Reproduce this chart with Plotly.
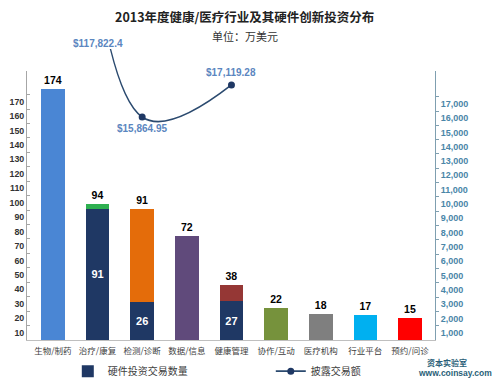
import plotly.graph_objects as go

categories = ["生物/制药", "治疗/康复", "检测/诊断", "数据/信息", "健康管理",
              "协作/互动", "医疗机构", "行业平台", "预约/问诊"]
totals = [174, 94, 91, 72, 38, 22, 18, 17, 15]
hardware = [None, 91, 26, None, 27, None, None, None, None]
bar_colors = ["#4a86d4", "#2eb050", "#e46c0a", "#604a7b", "#953735",
              "#76923c", "#7f7f7f", "#00b0f0", "#ff0000"]

line_cats = ["治疗/康复", "检测/诊断", "健康管理"]
line_vals = [117822.4, 15864.95, 17119.28]
line_labels = ["$117,822.4", "$15,864.95", "$17,119.28"]

left_ticks = [10, 20, 30, 40, 50, 60, 70, 80, 90, 100, 110, 120, 130, 140, 150, 160, 170]
right_ticks = [1000, 2000, 3000, 4000, 5000, 6000, 7000, 8000, 9000, 10000,
               11000, 12000, 13000, 14000, 15000, 16000, 17000]

rest = [t - (h or 0) for t, h in zip(totals, hardware)]

NAVY = "#1f3864"
FONT = "Arial, 'Liberation Sans', 'Noto Sans CJK SC', sans-serif"
CJK = "'Noto Sans CJK SC', 'Microsoft YaHei', sans-serif"

fig = go.Figure()

fig.add_trace(go.Bar(
    x=categories, y=hardware, name="硬件投资交易数量",
    marker=dict(color=NAVY, line=dict(width=0)),
    text=[("" if h is None else str(h)) for h in hardware],
    textposition="inside", insidetextanchor="middle",
    textfont=dict(color="white", size=11, family=FONT, weight="bold"),
    width=0.53, xaxis="x", yaxis="y", showlegend=True,
))
fig.add_trace(go.Bar(
    x=categories, y=rest, name="其他",
    marker=dict(color=bar_colors, line=dict(width=0)),
    text=[str(t) for t in totals], textposition="outside",
    textfont=dict(color="black", size=10.5, family=FONT, weight="bold"),
    constraintext="none", cliponaxis=False,
    width=0.53, xaxis="x", yaxis="y", showlegend=False,
))

fig.add_trace(go.Scatter(
    x=line_cats, y=line_vals, name="披露交易额",
    mode="lines+markers",
    line=dict(color="#2b4a6f", width=1.6, shape="spline", smoothing=1),
    marker=dict(color="#1f3864", size=7),
    xaxis="x2", yaxis="y3", showlegend=True,
))

fig.add_trace(go.Bar(x=[None], y=[None], yaxis="y2", xaxis="x", showlegend=False))

xrange = [-0.58, 8.56]
fig.update_layout(
    template="none",
    width=500, height=385,
    margin=dict(l=19, r=73, t=41, b=53, autoexpand=False),
    paper_bgcolor="white", plot_bgcolor="rgba(0,0,0,0)",
    barmode="stack", bargap=0.47,
    font=dict(family=FONT),
    xaxis=dict(domain=[0, 1], range=xrange, type="category", automargin=False,
               categoryorder="array", categoryarray=categories,
               showline=True, linecolor="#bfbfbf", linewidth=1,
               ticks="", ticklabelstandoff=3,
               tickfont=dict(size=8.5, color="#404040", family=CJK),
               showgrid=False, zeroline=False, anchor="y"),
    yaxis=dict(domain=[0, 0.9244], range=[0, 186.4], anchor="x", automargin=False,
               tickvals=left_ticks, ticks="inside", ticklen=3, tickcolor="#a6a6a6",
               ticklabelshift=7,
               tickfont=dict(size=8.8, color="#333333", family=FONT, weight="bold"),
               showline=True, linecolor="#a6a6a6", linewidth=1,
               showgrid=False, zeroline=False),
    yaxis2=dict(overlaying="y", side="right", anchor="x", range=[0, 18798],
                automargin=False,
                tickvals=right_ticks, tickformat=",", ticks="outside", ticklen=3,
                tickcolor="#7f9fb0", ticklabelshift=7,
                tickfont=dict(size=9, color="#4a86a8", family=FONT, weight="bold"),
                showline=True, linecolor="#7f9fb0", linewidth=1,
                showgrid=False, zeroline=False),
    xaxis2=dict(domain=[0, 1], range=xrange, type="category", automargin=False,
                categoryorder="array", categoryarray=categories,
                anchor="y3", visible=False),
    yaxis3=dict(domain=[0, 1], range=[7123, 18530], anchor="x2", visible=False,
                automargin=False),
    legend=dict(orientation="h", x=0.10, y=-0.107, xanchor="left", yanchor="middle",
                traceorder="normal",
                font=dict(size=10, color="#404040", family=CJK),
                entrywidth=158, bgcolor="rgba(0,0,0,0)"),
)

def ann(text, x, y, xref="paper", yref="paper", size=10, color="#333333",
        family=FONT, yshift=0):
    return dict(text=text, x=x, y=y, xref=xref, yref=yref, showarrow=False,
                xanchor="center", yanchor="middle", yshift=yshift,
                font=dict(size=size, color=color, family=family))

anns = [
    ann("<b>2013年度健康/医疗行业及其硬件创新投资分布</b>", 0.534, 1.11,
        size=12.5, color="#222222", family=CJK),
    ann("单位：万美元", 0.534, 1.0447, size=11, color="#333333", family=CJK),
    ann("<b>" + line_labels[0] + "</b>", line_cats[0], 1.0206, xref="x2",
        color="#5b86c0"),
    ann("<b>" + line_labels[1] + "</b>", line_cats[1], line_vals[1], xref="x2",
        yref="y3", yshift=-12, color="#5b86c0"),
    ann("<b>" + line_labels[2] + "</b>", line_cats[2], line_vals[2], xref="x2",
        yref="y3", yshift=12, color="#5b86c0"),
    ann("<b>资本实验室</b>", 1.029, -0.079, size=8, color="#2a5f78", family=CJK),
    ann("<b>www.coinsay.com</b>", 1.048, -0.113, size=8.5, color="#2a5f78"),
]
fig.update_layout(annotations=anns)

fig.write_html("out.html")
